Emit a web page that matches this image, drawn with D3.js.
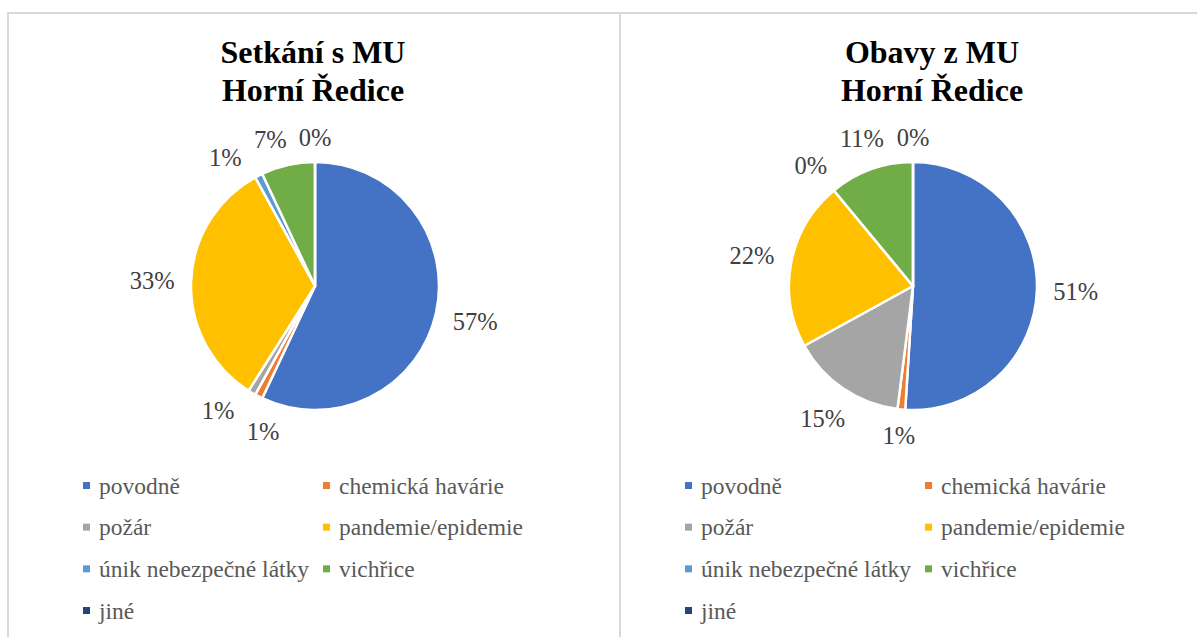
<!DOCTYPE html>
<html>
<head>
<meta charset="utf-8">
<script src="https://cdn.jsdelivr.net/npm/d3@7"></script>
<style>
  html, body { margin: 0; padding: 0; background: #fff; }
  svg { display: block; }
</style>
</head>
<body>
<svg id="chart" width="1197" height="637"></svg>
<script>
// ---- data ----
const categories = ["povodně", "chemická havárie", "požár", "pandemie/epidemie", "únik nebezpečné látky", "vichřice", "jiné"];
const colors = ["#4472C4", "#ED7D31", "#A5A5A5", "#FFC000", "#5B9BD5", "#70AD47", "#264478"];
const setkaniValues = [57, 1, 1, 33, 1, 7, 0];
const obavyValues = [51, 1, 15, 22, 0, 11, 0];
const titles1 = ["Setkání s MU", "Horní Ředice"];
const titles2 = ["Obavy z MU", "Horní Ředice"];

// ---- layout ----
const panels = [
  { x: 8, titleX: 313, cx: 315, cy: 286, r: 124, legX: 83, values: setkaniValues, title: titles1 },
  { x: 620, titleX: 932, cx: 913, cy: 286, r: 124, legX: 685, values: obavyValues, title: titles2 }
];

const svg = d3.select("#chart");
const serif = "'Liberation Serif', 'DejaVu Serif', serif";

panels.forEach(p => {
  const g = svg.append("g");
  g.append("rect")
    .attr("x", p.x).attr("y", 13)
    .attr("width", 612).attr("height", 660)
    .attr("fill", "#fff")
    .attr("stroke", "#D9D9D9").attr("stroke-width", 2);

  // title
  p.title.forEach((t, k) => {
    g.append("text")
      .attr("x", p.titleX).attr("y", 63 + k * 38)
      .attr("text-anchor", "middle")
      .style("font-family", serif).attr("font-weight", "bold")
      .attr("font-size", 32).attr("fill", "#000")
      .text(t);
  });

  const total = d3.sum(p.values);
  const pie = d3.pie().sort(null).value(d => d).startAngle(0).endAngle(2 * Math.PI);
  const arcs = pie(p.values);
  const arc = d3.arc().innerRadius(0).outerRadius(p.r);
  const color = d3.scaleOrdinal().domain(d3.range(categories.length)).range(colors);

  const pg = g.append("g").attr("transform", `translate(${p.cx},${p.cy})`);
  pg.selectAll("path").data(arcs).join("path")
    .attr("d", arc)
    .attr("fill", (d, i) => color(i))
    .attr("stroke", "#fff").attr("stroke-width", 2.5)
    .attr("stroke-linejoin", "round");

  // labels
  const fmt = v => Math.round(v / total * 100) + "%";
  const labels = arcs.map((d, i) => ({
    text: fmt(d.value),
    angle: (d.startAngle + d.endAngle) / 2,
    i
  }));
  const lt = pg.selectAll("text.lbl").data(labels).join("text")
    .attr("class", "lbl")
    .style("font-family", serif).attr("font-size", 24.5)
    .attr("fill", "#404040")
    .attr("text-anchor", "middle")
    .attr("dy", "0.35em")
    .text(d => d.text);
  lt.each(function(d) { d.hw = this.getComputedTextLength() / 2 + 1; d.hh = 10; });

  const gap = 15;
  const maxA = 2 * Math.PI;
  function place(d) {
    const dx = Math.sin(d.angle), dy = -Math.cos(d.angle);
    const dist = p.r + gap + d.hw * Math.abs(dx) + d.hh * Math.abs(dy);
    d.x = dx * dist; d.y = dy * dist;
  }
  labels.forEach(place);
  const margin = 10;
  for (let it = 0; it < 400; it++) {
    let moved = false;
    for (let a = 0; a < labels.length; a++) {
      for (let b = a + 1; b < labels.length; b++) {
        const A = labels[a], B = labels[b];
        const ox = (A.hw + B.hw + margin) - Math.abs(A.x - B.x);
        const oy = (A.hh + B.hh + margin) - Math.abs(A.y - B.y);
        if (ox > 0 && oy > 0) {
          A.angle -= 0.004; B.angle = Math.min(maxA, B.angle + 0.004);
          place(A); place(B);
          moved = true;
        }
      }
    }
    if (!moved) break;
  }
  lt.attr("x", d => d.x).attr("y", d => d.y);

  // legend
  const rowY = d3.scalePoint().domain(d3.range(4)).range([486, 611]);
  const colX = d3.scalePoint().domain([0, 1]).range([p.legX, p.legX + 240]);
  const lg = g.append("g");
  const items = lg.selectAll("g").data(categories).join("g")
    .attr("transform", (d, i) => `translate(${colX(i % 2)},${rowY(Math.floor(i / 2))})`);
  items.append("rect")
    .attr("x", 0).attr("y", -4).attr("width", 7).attr("height", 7)
    .attr("fill", (d, i) => color(i));
  items.append("text")
    .attr("x", 16).attr("y", 0).attr("dy", "0.32em")
    .style("font-family", serif).attr("font-size", 23.5)
    .attr("fill", "#595959")
    .text(d => d);
});
</script>
</body>
</html>
